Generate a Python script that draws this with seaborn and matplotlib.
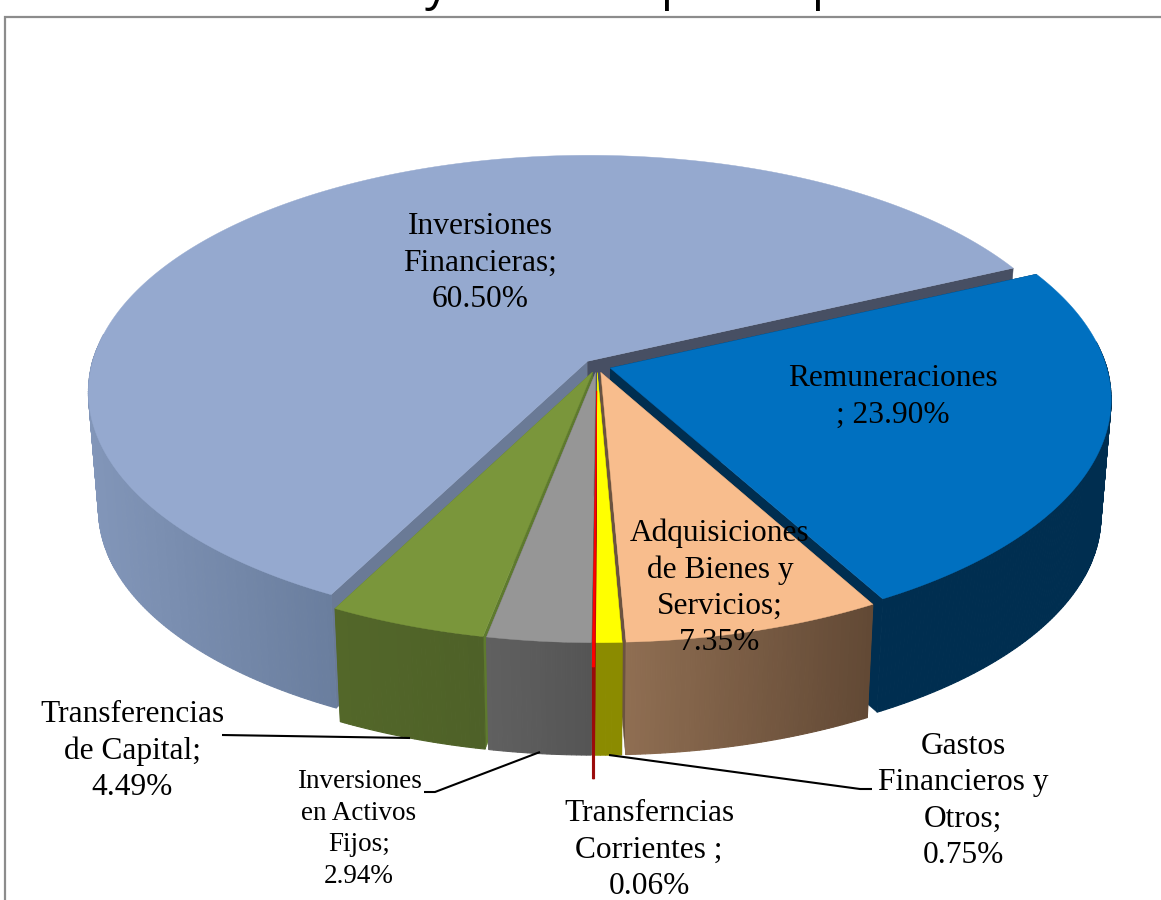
import numpy as np
import matplotlib
matplotlib.use("Agg")
import matplotlib.pyplot as plt
import seaborn as sns

# ---------- data ----------
categories = ["Remuneraciones", "Adquisiciones de Bienes y Servicios", "Gastos Financieros y Otros",
              "Transferencias Corrientes", "Inversiones en Activos Fijos",
              "Transferencias de Capital", "Inversiones Financieras"]
values = [23.90, 7.35, 0.75, 0.06, 2.94, 4.49, 60.50]
label_templates = ["Remuneraciones\n; {:.2f}%", "Adquisiciones\nde Bienes y\nServicios;\n{:.2f}%",
                   "Gastos\nFinancieros y\nOtros;\n{:.2f}%", "Transferncias\nCorrientes ;\n{:.2f}%",
                   "Inversiones\nen Activos\nFijos;\n{:.2f}%", "Transferencias\nde Capital;\n{:.2f}%",
                   "Inversiones\nFinancieras;\n{:.2f}%"]

# ---------- style ----------
sns.set_theme(style="white")
plt.rcParams["font.family"] = ["Liberation Serif", "DejaVu Serif"]
top_colors = sns.color_palette(["#0070C0", "#F8BD8D", "#FFFF00", "#FF0000", "#969696", "#7A963B", "#95A9CF"])
wall_left = ["#002E50", "#8F6E52", "#8B8B00", "#9B0A0A", "#606060", "#536729", "#8296B9"]
wall_right = ["#002E50", "#624935", "#8B8B00", "#9B0A0A", "#555555", "#4E6128", "#6A7E9E"]
face_start = ["#002E50", "#6B5340", "#8B8B00", "#9B0A0A", "#606060", "#5E7A2E", "#6A7A96"]
face_end = ["#002E50", "#6B5340", "#8B8B00", "#9B0A0A", "#606060", "#5E7A2E", "#474F63"]
explode = [0.028, 0.028, 0.028, 0.105, 0.028, 0.028, 0.028]
draw_order = [6, 0, 5, 1, 4, 2, 3]

label_xy = [(893, 397), (720, 588), (963, 801), (649, 850), (359, 829), (132, 751), (480, 263)]
label_size = [22.6, 22.6, 22.6, 22.6, 19.5, 22.6, 22.6]
label_spacing = [1.33, 1.33, 1.33, 1.33, 1.36, 1.33, 1.33]
leaders = [([222, 410], [735, 738]),
           ([424, 435, 540], [792, 792, 752]),
           ([609, 860, 872], [755, 789, 789])]

# ---------- projection ----------
CX, CY = 597.0, 366.0
A, B, K = 496.0, 233.6, 0.1285
DEPTH, SB = 118.0, 0.98
START_DEG = 25.0
STEP = np.deg2rad(0.5)


def project(theta, r, phi, e, bottom=False):
    x = r * np.cos(theta) + e * np.cos(phi)
    y = r * np.sin(theta) + e * np.sin(phi)
    w = 1 + K * y
    s = SB if bottom else 1.0
    d = DEPTH if bottom else 0.0
    return CX + s * A * x / w, CY + d - s * B * y / w


def mix(c1, c2, t):
    a, b = np.array(matplotlib.colors.to_rgb(c1)), np.array(matplotlib.colors.to_rgb(c2))
    return tuple(a + (b - a) * t)


fig = plt.figure(figsize=(11.61, 9.0), dpi=100)
ax = fig.add_axes([0, 0, 1, 1])
ax.set_xlim(0, 1161)
ax.set_ylim(900, 0)
ax.axis("off")

fractions = np.array(values) / np.sum(values)
edges = np.deg2rad(START_DEG) - 2 * np.pi * np.concatenate([[0], np.cumsum(fractions)])

# frame of the chart area (only the top and left sides fall inside the picture)
ax.plot([5, 5, 1161], [900, 17, 17], color="#8C8C8C", lw=1.6, solid_joinstyle="miter", zorder=0)

for i in draw_order:
    t0, t1 = edges[i], edges[i + 1]
    phi = (t0 + t1) / 2
    e = explode[i]
    thin = values[i] < 0.2
    lw = 0.7 if thin else 0.3

    # radial side faces
    for t, c in ((t0, face_start[i]), (t1, face_end[i])):
        ax0 = project(t, 0, phi, e)
        ax1 = project(t, 1, phi, e)
        bx1 = project(t, 1, phi, e, True)
        bx0 = project(t, 0, phi, e, True)
        ax.fill([ax0[0], ax1[0], bx1[0], bx0[0]], [ax0[1], ax1[1], bx1[1], bx0[1]],
                color=c, lw=0.3)

    # outer wall: only its front part, in narrow overlapping strips for the horizontal shading
    n = max(2, int(abs(t1 - t0) / STEP))
    ts = np.linspace(t0, t1, n + 1)
    ts = ts[np.sin(ts) < 0.12]
    if len(ts) > 1:
        xs_all = project(ts, 1, phi, e)[0]
        lo, hi = xs_all.min(), xs_all.max()
        order = np.argsort(np.cos(ts))
        ts_sorted = ts[order]
        for a, b in zip(ts_sorted[:-1], ts_sorted[1:]):
            pa, pb = project(a, 1, phi, e), project(b, 1, phi, e)
            qa, qb = project(a, 1, phi, e, True), project(b, 1, phi, e, True)
            tt = ((pa[0] + pb[0]) / 2 - lo) / max(hi - lo, 1)
            c = mix(wall_left[i], wall_right[i], tt)
            ax.fill([pa[0], pb[0], qb[0], qa[0]], [pa[1], pb[1], qb[1], qa[1]], color=c,
                    lw=lw if thin else lw + 0.5)

    # top face
    ts = np.linspace(t0, t1, max(3, int(abs(t1 - t0) / STEP)))
    px, py = project(ts, 1, phi, e)
    ox, oy = project(t0, 0, phi, e)
    ax.fill(np.r_[ox, px], np.r_[oy, py], color=top_colors[i], lw=lw)

# leader lines
for lx, ly in leaders:
    ax.plot(lx, ly, color="black", lw=1.5, solid_capstyle="butt")

# labels
for i, tpl in enumerate(label_templates):
    ax.text(label_xy[i][0], label_xy[i][1], tpl.format(values[i]), ha="center", va="center",
            multialignment="center", fontsize=label_size[i], linespacing=label_spacing[i],
            color="black")

# the bottoms of the title's descenders are all that shows of it at the top edge
for gx, g in zip([437, 675, 826], ["y", "p", "p"]):
    ax.text(gx, 0, g, ha="center", va="baseline", fontsize=34, color="black",
            family="Open Sans", clip_on=True)

fig.savefig("out.png", dpi=100, facecolor="white")
